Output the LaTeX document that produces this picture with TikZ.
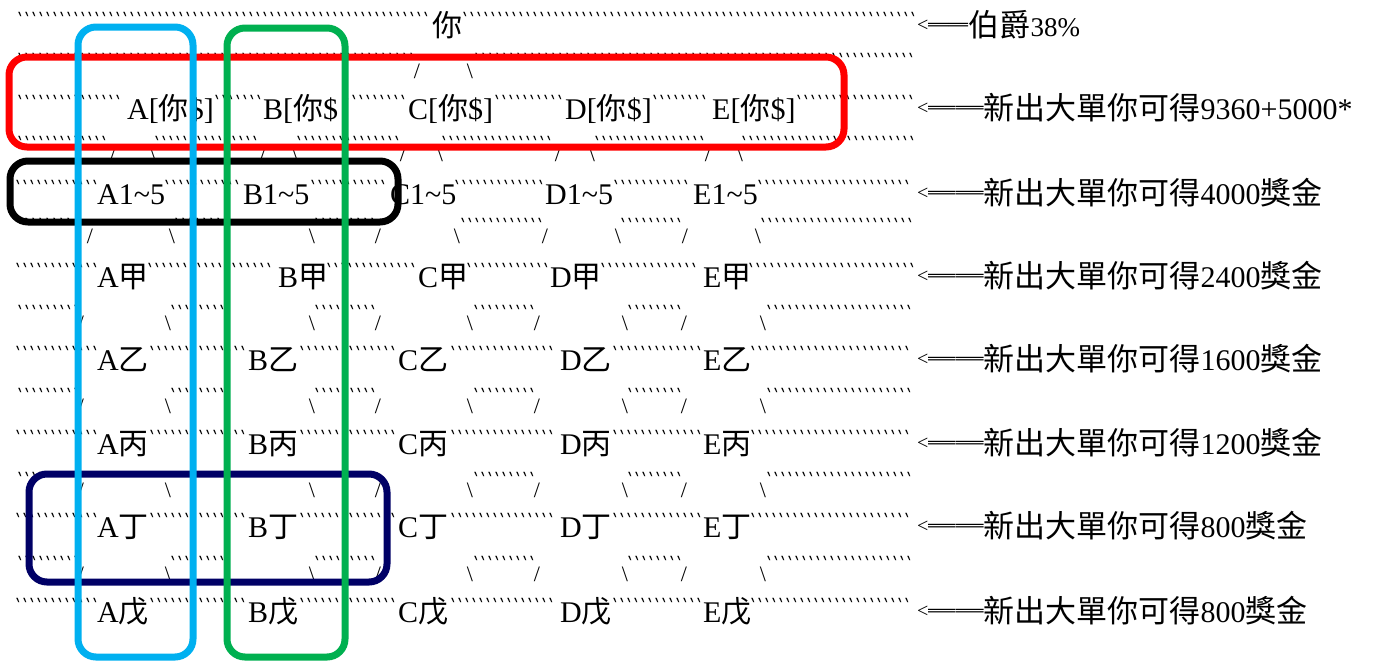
\documentclass[tikz,border=0pt]{standalone}
\usepackage{fontspec}
\usepackage{graphicx}
\setmainfont{Liberation Serif}
\setmonofont{DejaVu Sans Mono}
\newfontfamily\cjk{Noto Sans CJK TC}
\ExplSyntaxOn
\cs_new:Npn \tickrep #1 { \prg_replicate:nn {#1} {`} }
\ExplSyntaxOff
\definecolor{cyanbox}{HTML}{00B0F0}
\definecolor{greenbox}{HTML}{00B050}
\definecolor{redbox}{HTML}{FF0000}
\definecolor{navybox}{HTML}{000066}
\tikzset{
  tk/.style={font=\ttfamily\bfseries\fontsize{24}{24}\selectfont, inner sep=0pt, anchor=base west},
  lab/.style={font=\fontsize{30}{32}\selectfont, inner sep=0pt, anchor=base west},
  slash/.style={font=\fontsize{22}{22}\selectfont, inner sep=0pt, anchor=base},
  frame/.style={line width=7pt, rounded corners=18pt},
}
\newcommand\trun[3]{\node[tk] (t-#1-#2) at (#1-3,#2+17) {\scalebox{0.4845}[1]{\tickrep{#3}}};}
\newcommand\fw[2]{\node[slash] (f-#1-#2) at (#1,#2+23) {/};}
\newcommand\bk[2]{\node[slash] (b-#1-#2) at (#1,#2+23) {\textbackslash};}
\newcommand\cj[1]{{\cjk\fontsize{31}{33}\selectfont #1}}
\newcommand\arr[1]{\raisebox{5pt}{\fontsize{20}{20}\selectfont<}{\cjk\scalebox{#1}[1]{══}}}
\newcommand\forkrow[1]{%
  \trun{20}{#1}{9}\fw{81}{#1}%
  \bk{168}{#1}\trun{173}{#1}{8}%
  \bk{312}{#1}\trun{317}{#1}{9}\fw{378}{#1}%
  \bk{470}{#1}\trun{476}{#1}{9}\fw{537}{#1}%
  \bk{625}{#1}\trun{630}{#1}{8}\fw{684}{#1}%
  \bk{763}{#1}\trun{769}{#1}{21}}
\newcommand\labrow[2]{%
  \trun{18}{#1}{12}\node[lab] (a-#1) at (97,#1+22) {A{\cjk #2}};%
  \trun{152}{#1}{14}\node[lab] (bb-#1) at (248,#1+22) {B{\cjk #2}};%
  \trun{302}{#1}{14}\node[lab] (c-#1) at (398,#1+22) {C{\cjk #2}};%
  \trun{453}{#1}{15}\node[lab] (d-#1) at (560,#1+22) {D{\cjk #2}};%
  \trun{615}{#1}{13}\node[lab] (e-#1) at (703,#1+22) {E{\cjk #2}};%
  \trun{753}{#1}{23}}
\begin{document}
\begin{tikzpicture}[x=1pt,y=-1pt]
\fill[white] (0,0) rectangle (1376,662);
\useasboundingbox (0,0) rectangle (1376,662);
% line 0
\trun{20}{14}{59}
\node[lab] (top) at (432,36) {\cjk 你};
\trun{465}{14}{65}
\node[lab] (r0) at (917,36) {\arr{0.67}\cj{伯爵}{\fontsize{27}{28}\selectfont 38\%}};
% line 1
\trun{20}{55}{57}\fw{417}{55}\bk{470}{55}\trun{477}{55}{63}
% line 2
\trun{20}{97}{15}
\node[lab] (A0) at (127,119) {A[{\cjk 你}\$]};
\trun{217}{97}{7}
\node[lab] (B0) at (263,119) {B[{\cjk 你}\$};
\trun{347}{97}{9}
\node[lab] (C0) at (408,119) {C[{\cjk 你}\$]};
\trun{497}{97}{10}
\node[lab] (D0) at (565,119) {D[{\cjk 你}\$]};
\trun{655}{97}{8}
\node[lab] (E0) at (712,119) {E[{\cjk 你}\$]};
\trun{799}{97}{17}
\node[lab] (r1) at (917,119) {\arr{0.92}\cj{新出大單你可得}9360+5000*};
% line 3
\trun{20}{138}{13}\fw{113}{138}\bk{153}{138}
\trun{157}{138}{15}\fw{263}{138}\bk{295}{138}
\trun{299}{138}{15}\fw{403}{138}\bk{440}{138}
\trun{444}{138}{16}\fw{558}{138}\bk{592}{138}
\trun{597}{138}{16}\fw{708}{138}\bk{740}{138}
\trun{744}{138}{25}
% line 4
\trun{18}{182}{12}
\node[lab] (A1) at (97,204) {A1\textasciitilde 5};
\trun{167}{182}{11}
\node[lab] (B1) at (243,204) {B1\textasciitilde 5};
\trun{313}{182}{11}
\node[lab] (C1) at (390,204) {C1\textasciitilde 5};
\trun{457}{182}{13}
\node[lab] (D1) at (545,204) {D1\textasciitilde 5};
\trun{616}{182}{11}
\node[lab] (E1) at (693,204) {E1\textasciitilde 5};
\trun{760}{182}{22}
\node[lab] (r2) at (917,204) {\arr{0.92}\cj{新出大單你可得}4000\cj{獎金}};
% line 5
\trun{20}{220}{8}\fw{90}{220}
\bk{172}{220}\trun{177}{220}{7}
\bk{312}{220}\trun{317}{220}{9}\fw{378}{220}
\bk{457}{220}\trun{463}{220}{12}\fw{545}{220}
\bk{618}{220}\trun{623}{220}{9}\fw{685}{220}
\bk{758}{220}\trun{763}{220}{22}
% line 6
\trun{18}{265}{12}
\node[lab] (A2) at (97,287) {A{\cjk 甲}};
\trun{150}{265}{18}
\node[lab] (B2) at (278,287) {B{\cjk 甲}};
\trun{329}{265}{13}
\node[lab] (C2) at (418,287) {C{\cjk 甲}};
\trun{469}{265}{12}
\node[lab] (D2) at (550,287) {D{\cjk 甲}};
\trun{603}{265}{14}
\node[lab] (E2) at (703,287) {E{\cjk 甲}};
\trun{751}{265}{24}
\node[lab] (r3) at (917,287) {\arr{0.92}\cj{新出大單你可得}2400\cj{獎金}};
% lines 7-14
\forkrow{307}
\labrow{348}{乙}
\node[lab] (r4) at (917,370) {\arr{0.92}\cj{新出大單你可得}1600\cj{獎金}};
\forkrow{390}
\labrow{432}{丙}
\node[lab] (r5) at (917,454) {\arr{0.92}\cj{新出大單你可得}1200\cj{獎金}};
\forkrow{474}
\labrow{515}{丁}
\node[lab] (r6) at (917,537) {\arr{0.92}\cj{新出大單你可得}800\cj{獎金}};
\forkrow{558}
\labrow{600}{戊}
\node[lab] (r7) at (917,622) {\arr{0.92}\cj{新出大單你可得}800\cj{獎金}};
% frames
\draw[frame, redbox] (9,57) rectangle (844,147);
\draw[frame, black] (10,161) rectangle (398,222);
\draw[frame, navybox] (29,474) rectangle (387,582);
\draw[frame, cyanbox] (78,27) rectangle (193,657);
\draw[frame, greenbox] (227,28) rectangle (345,657);
\end{tikzpicture}
\end{document}
